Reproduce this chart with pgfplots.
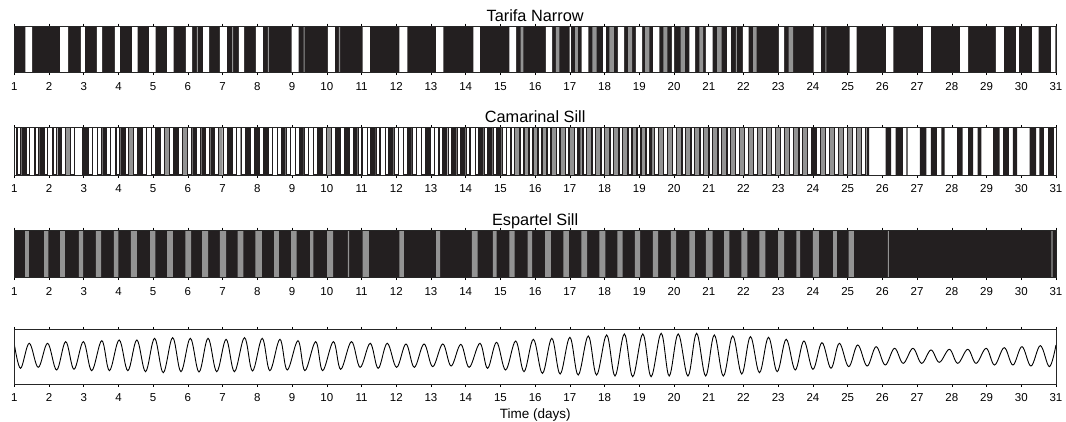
\documentclass[border=0pt]{standalone}
\usepackage{fontspec}
\setmainfont{Liberation Sans}
\usepackage{pgfplots}
\pgfplotsset{compat=1.18}
\definecolor{bk}{HTML}{231F20}
\definecolor{gr}{HTML}{939393}
\pgfplotsset{
  panel/.style={
    scale only axis, width=1041.7pt,
    xmin=1, xmax=31, xtick={1,...,31},
    ymin=0, ymax=1, ytick=\empty,
    tick align=outside, xtick pos=both, xticklabel pos=lower,
    major tick length=2.5pt,
    major tick style={black, line width=0.6pt},
    axis line style={black!85, line width=0.7pt},
    /pgf/number format/assume math mode=true,
    xticklabel style={font=\fontsize{11.5}{12}\selectfont, anchor=base, yshift=-15pt},
    title style={at={(0.5,1)}, anchor=base, yshift=-1.2pt, inner sep=0pt, font=\fontsize{16.3}{18}\selectfont},
    axis on top,
  },
  seg/.style={const plot, draw=none, fill=#1},
}
\begin{document}
\begin{tikzpicture}
\path[use as bounding box] (0,0) rectangle (1066pt,-421pt);
% ---------------- Tarifa Narrow
\begin{axis}[panel, at={(14.3pt,-72.7pt)}, anchor=south west, height=46.7pt,
  title={Tarifa Narrow}, axis background/.style={fill=bk}]
\addplot[seg=white] coordinates {(1,0)
(1.317,1)(1.51,0)(2.318,1)(2.55,0)(2.92,1)(3.03,0)(3.38,1)(3.53,0)(3.90,1)(4.04,0)
(4.39,1)(4.55,0)(4.88,1)(5.07,0)(5.40,1)(5.59,0)(5.94,1)(6.12,0)(6.44,1)(6.61,0)
(6.92,1)(7.12,0)(7.47,1)(7.62,0)(7.96,1)(8.16,0)(8.99,1)(9.19,0)(10.03,1)(10.23,0)
(11.03,1)(11.24,0)(12.09,1)(12.32,0)(13.15,1)(13.36,0)(14.22,1)(14.41,0)(15.26,1)(15.45,0)
(16.31,1)(16.49,0)(16.99,1)(17.03,0)(17.34,1)(17.53,0)(17.96,1)(18.04,0)(18.38,1)(18.56,0)
(18.90,1)(19.08,0)(19.40,1)(19.58,0)(19.94,1)(20.00,0)(20.44,1)(20.61,0)(20.92,1)(21.11,0)
(21.53,1)(21.64,0)(21.98,1)(22.15,0)(23.02,1)(23.17,0)(24.02,1)(24.23,0)(25.06,1)(25.26,0)
(26.11,1)(26.32,0)(27.17,1)(27.40,0)(28.24,1)(28.47,0)(29.27,1)(29.50,0)(29.85,1)(29.93,0)
(30.31,1)(30.50,0)(30.86,1)(30.98,0)(31,0)} \closedcycle;
\addplot[seg=gr] coordinates {(1,0)
(6.26,1)(6.29,0)(7.27,1)(7.30,0)(8.30,1)(8.33,0)(9.33,1)(9.36,0)(10.35,1)(10.38,0)
(15.58,1)(15.66,0)(16.60,1)(16.70,0)(17.15,1)(17.23,0)(17.65,1)(17.77,0)(18.14,1)(18.27,0)
(18.68,1)(18.79,0)(19.17,1)(19.29,0)(19.69,1)(19.81,0)(20.19,1)(20.31,0)(20.73,1)(20.84,0)
(21.24,1)(21.37,0)(21.78,1)(21.81,0)(22.28,1)(22.38,0)(23.30,1)(23.43,0)(24.36,1)(24.39,0)
(31,0)} \closedcycle;
\end{axis}
% ---------------- Camarinal Sill
\begin{axis}[panel, at={(14.3pt,-175pt)}, anchor=south west, height=47.3pt,
  title={Camarinal Sill}, axis background/.style={fill=white}]
\addplot[seg=gr] coordinates {(1,0)
(1.60,1)(1.72,0)(2.36,1)(2.65,0)(4.25,1)(4.55,0)(5.29,1)(5.97,0)(6.80,1)(7.00,0)(7.50,1)(8.27,0)
(9.18,1)(9.42,0)(10.00,1)(10.19,0)(11.24,1)(11.44,0)(12.25,1)(12.45,0)(13.30,1)(13.45,0)(15.30,1)(25.56,0)
(31,0)} \closedcycle;
\addplot[seg=bk] coordinates {(1,0)
(1.205,1)(1.315,0)(1.725,1)(1.835,0)(2.245,1)(2.345,0)(2.95,1)(3.13,0)(3.535,1)(3.645,0)
(4.055,1)(4.165,0)(4.565,1)(4.675,0)(5.085,1)(5.195,0)(5.605,1)(5.715,0)(6.125,1)(6.235,0)
(6.385,1)(6.495,0)(6.645,1)(6.745,0)(7.155,1)(7.265,0)(7.675,1)(7.785,0)(7.935,1)(8.045,0)
(8.195,1)(8.305,0)(8.715,1)(8.815,0)(9.225,1)(9.335,0)(9.745,1)(9.855,0)(10.265,1)(10.375,0)
(10.525,1)(10.635,0)(10.785,1)(10.885,0)(11.295,1)(11.405,0)(11.815,1)(11.925,0)(12.335,1)(12.445,0)
(12.855,1)(12.965,0)(13.365,1)(13.475,0)(13.625,1)(13.735,0)(13.885,1)(13.995,0)(14.405,1)(14.515,0)
(14.665,1)(14.775,0)(14.925,1)(15.035,0)(17.245,1)(17.30,0)(19.31,1)(19.37,0)(23.975,1)(24.085,0)(25.56,1)(25.62,0)
(26.09,1)(26.25,0)(26.38,1)(26.59,0)(26.69,1)(26.73,0)(27.08,1)(27.27,0)(27.40,1)(27.57,0)
(27.70,1)(27.79,0)(28.15,1)(28.31,0)(28.47,1)(28.61,0)(28.74,1)(28.85,0)(29.19,1)(29.38,0)
(29.48,1)(29.64,0)(29.76,1)(29.88,0)(30.24,1)(30.43,0)(30.52,1)(30.65,0)(30.77,1)(30.94,0)
(31,0)} \closedcycle;
\addplot[ybar, bar width=0.11, fill=white, draw=bk, line width=1.3pt] coordinates {
(1.13,1)(1.39,1)(1.65,1)(1.91,1)(2.17,1)(2.42,1)(2.68,1)(3.20,1)(3.46,1)(3.72,1)
(3.98,1)(4.24,1)(4.49,1)(4.75,1)(5.01,1)(5.27,1)(5.53,1)(5.79,1)(6.05,1)(6.31,1)
(6.57,1)(6.82,1)(7.08,1)(7.34,1)(7.60,1)(7.86,1)(8.12,1)(8.38,1)(8.64,1)(8.89,1)
(9.15,1)(9.41,1)(9.67,1)(9.93,1)(10.19,1)(10.45,1)(10.71,1)(10.96,1)(11.22,1)(11.48,1)
(11.74,1)(12.00,1)(12.26,1)(12.52,1)(12.78,1)(13.04,1)(13.29,1)(13.55,1)(13.81,1)(14.07,1)
(14.33,1)(14.59,1)(14.85,1)(15.11,1)(15.36,1)(15.62,1)(15.88,1)(16.14,1)(16.40,1)(16.66,1)
(16.92,1)(17.18,1)(17.43,1)(17.69,1)(17.95,1)(18.21,1)(18.47,1)(18.73,1)(18.99,1)(19.25,1)
(19.50,1)(19.76,1)(20.02,1)(20.28,1)(20.54,1)(20.80,1)(21.06,1)(21.32,1)(21.58,1)(21.83,1)
(22.09,1)(22.35,1)(22.61,1)(22.87,1)(23.13,1)(23.39,1)(23.65,1)(23.90,1)(24.16,1)(24.42,1)
(24.68,1)(24.94,1)(25.20,1)(25.46,1)};
\end{axis}
% ---------------- Espartel Sill
\begin{axis}[panel, at={(14.3pt,-277.7pt)}, anchor=south west, height=47.7pt,
  title={Espartel Sill}, axis background/.style={fill=bk}]
\addplot[seg=gr] coordinates {(1,0)
(1.31,1)(1.42,0)(1.86,1)(1.98,0)(2.32,1)(2.46,0)(2.86,1)(2.98,0)(3.35,1)(3.50,0)
(3.87,1)(4.00,0)(4.36,1)(4.53,0)(4.91,1)(5.06,0)(5.40,1)(5.57,0)(5.93,1)(6.09,0)
(6.41,1)(6.58,0)(6.92,1)(7.10,0)(7.43,1)(7.60,0)(7.94,1)(8.13,0)(8.48,1)(8.62,0)
(8.97,1)(9.13,0)(9.52,1)(9.61,0)(10.01,1)(10.18,0)(10.61,1)(10.64,0)(11.03,1)(11.21,0)
(12.09,1)(12.22,0)(13.15,1)(13.26,0)(14.18,1)(14.34,0)(14.78,1)(14.89,0)(15.26,1)(15.41,0)
(15.78,1)(15.91,0)(16.29,1)(16.45,0)(16.81,1)(16.97,0)(17.33,1)(17.50,0)(17.85,1)(18.02,0)
(18.37,1)(18.52,0)(18.87,1)(19.02,0)(19.39,1)(19.54,0)(19.91,1)(20.06,0)(20.44,1)(20.60,0)
(20.92,1)(21.11,0)(21.44,1)(21.59,0)(21.94,1)(22.11,0)(22.46,1)(22.63,0)(23.00,1)(23.17,0)
(23.52,1)(23.63,0)(24.00,1)(24.17,0)(24.58,1)(24.69,0)(25.03,1)(25.18,0)(26.16,1)(26.19,0)
(30.87,1)(30.90,0)(31,0)} \closedcycle;
\end{axis}
% ---------------- water level
\begin{axis}[panel, at={(14.3pt,-384pt)}, anchor=south west, height=54.7pt,
  ymin=-82, ymax=82, xlabel={Time (days)},
  xlabel style={font=\fontsize{13.5}{15}\selectfont, anchor=base, at={(0.5,0)}, yshift=-34.5pt, inner sep=0pt}]
\addplot[black, line width=0.9pt, smooth, tension=0.6] coordinates {
(1.00,38)(1.18,-35)(1.43,40)(1.69,-32)(1.96,40)(2.22,-40)(2.48,45)(2.72,-38)(2.99,45)(3.23,-42)
(3.52,48)(3.74,-42)(4.02,50)(4.27,-42)(4.53,50)(4.78,-45)(5.04,55)(5.29,-48)(5.56,57)(5.80,-45)
(6.07,55)(6.32,-46)(6.58,55)(6.83,-45)(7.10,52)(7.34,-45)(7.63,57)(7.86,-43)(8.14,55)(8.36,-42)
(8.65,52)(8.86,-40)(9.17,48)(9.37,-42)(9.68,45)(9.88,-42)(10.19,45)(10.40,-38)(10.71,45)(10.96,-32)
(11.25,40)(11.48,-35)(11.74,40)(12.01,-32)(12.28,38)(12.52,-32)(12.80,38)(13.05,-30)(13.34,38)(13.58,-28)
(13.86,37)(14.10,-32)(14.41,40)(14.63,-35)(14.89,43)(15.15,-40)(15.44,47)(15.68,-45)(15.95,52)(16.21,-50)
(16.48,55)(16.72,-52)(17.00,58)(17.24,-55)(17.53,62)(17.77,-55)(18.06,65)(18.30,-58)(18.57,68)(18.81,-60)
(19.10,68)(19.34,-60)(19.63,70)(19.86,-58)(20.12,68)(20.40,-58)(20.65,70)(20.91,-58)(21.16,65)(21.42,-58)
(21.69,62)(21.95,-52)(22.20,60)(22.46,-48)(22.72,58)(22.97,-45)(23.23,52)(23.49,-40)(23.74,47)(24.00,-38)
(24.26,42)(24.52,-35)(24.76,40)(25.03,-30)(25.29,35)(25.56,-28)(25.82,30)(26.08,-25)(26.35,25)(26.60,-20)
(26.88,25)(27.13,-20)(27.40,20)(27.64,-17)(27.93,22)(28.17,-20)(28.46,22)(28.70,-20)(28.99,25)(29.23,-25)
(29.51,27)(29.76,-25)(30.02,30)(30.28,-28)(30.55,33)(30.81,-30)(31.00,35)};
\end{axis}
\end{tikzpicture}
\end{document}
